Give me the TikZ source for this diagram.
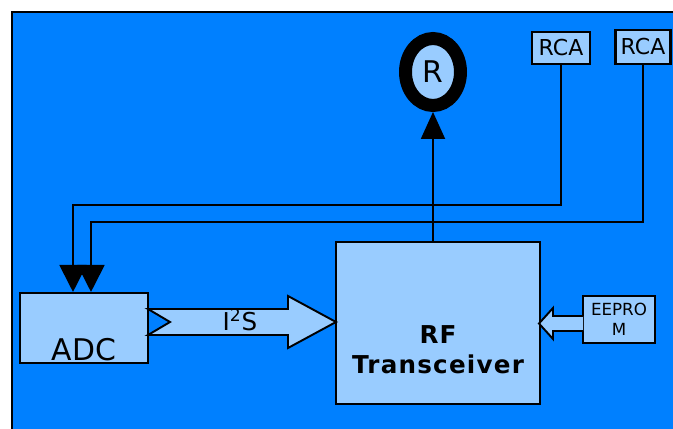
\documentclass[tikz,border=0pt]{standalone}
\usepackage{fontspec}
\setmainfont{DejaVu Sans}
\usetikzlibrary{arrows.meta,shapes.geometric}
\definecolor{bgblue}{RGB}{0,128,255}
\definecolor{boxblue}{RGB}{153,204,255}

\begin{document}
\begin{tikzpicture}[x=0.02cm,y=-0.02cm]
          \tikzset{
            BoxStyle/.style = { rectangle, draw, fill = boxblue,
              line width = 1.2pt, inner sep = 0pt },
            WireStyle/.style = { line width = 1.1pt,
              -{Triangle[width=0.54cm,length=0.54cm]} },
            FatArrow/.style = { draw, fill = boxblue, line width = 1.1pt,
              line join = miter } }

          \useasboundingbox (0,0) rectangle (673,429);
          % background panel
          \fill[bgblue] (12,12) rectangle (673,429);
          \draw[line width=1.2pt] (673,12) -- (12,12) -- (12,429);

          \node[BoxStyle, minimum width=2.56cm, minimum height=1.4cm,
            label={[font=\fontsize{17}{20}\selectfont, anchor=base, yshift=0.08cm]south:ADC}]
            (ADC) at (84,328) {};
          \node[BoxStyle, minimum width=4.08cm, minimum height=3.24cm,
            label={[font=\bfseries\fontsize{14}{17}\selectfont\addfontfeature{LetterSpace=5},
              align=center, yshift=-0.54cm]center:RF\\Transceiver}]
            (RF) at (438,323) {};
          \node[BoxStyle, minimum width=1.44cm, minimum height=0.94cm, align=center,
            font=\fontsize{9.5}{11.5}\selectfont] (EEPROM) at (619,319.5) {EEPRO\\M};
          \node[BoxStyle, minimum width=1.16cm, minimum height=0.64cm,
            font=\fontsize{12.5}{14}\selectfont] (RCA1) at (561,48) {RCA};
          \node[BoxStyle, minimum width=1.1cm, minimum height=0.68cm,
            font=\fontsize{12.5}{14}\selectfont] (RCA2) at (643,47) {RCA};
          \node[ellipse, draw, line width=0.26cm, fill=boxblue, inner sep=0pt,
            minimum width=1.1cm, minimum height=1.34cm,
            font=\fontsize{17}{20}\selectfont] (ANT) at (433,72) {R};

          % audio lines into the ADC
          \coordinate (bus1) at (73,205);
          \coordinate (bus2) at (91,222);
          \draw[WireStyle] (RCA1.south) |- (bus1) -- (bus1 |- ADC.north);
          \draw[WireStyle] (RCA2.south) |- (bus2) -- (bus2 |- ADC.north);

          % RF out to the antenna
          \draw[line width=1.1pt, -{Triangle[width=0.48cm,length=0.54cm]}]
            (RF.north -| ANT) -- (ANT.south);

          % I2S bus
          \draw[FatArrow] (148,309) -- (288,309) -- (288,296) -- (336,322)
            -- (288,348) -- (288,335) -- (148,335) -- (170,322) -- cycle;
          \node[font=\fontsize{14}{16}\selectfont] (I2S) at (240,320) {I\textsuperscript{2}S};

          % EEPROM to transceiver
          \draw[FatArrow] (583,316) -- (553,316) -- (553,308) -- (539,323.5)
            -- (553,339) -- (553,331) -- (583,331);
\end{tikzpicture}
\end{document}
